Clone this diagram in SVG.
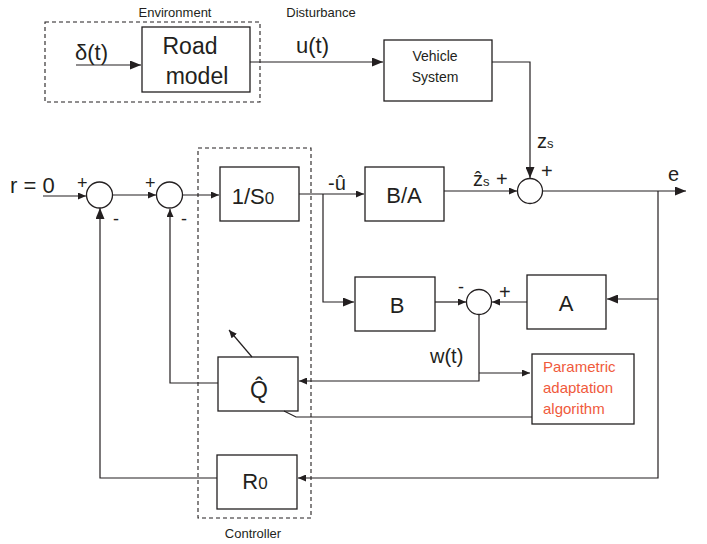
<svg xmlns="http://www.w3.org/2000/svg" width="707" height="544" viewBox="0 0 707 544">
<style>
.box{fill:#fff;stroke:#231f20;stroke-width:1.3}
.dash{fill:none;stroke:#231f20;stroke-width:1.1;stroke-dasharray:4 3}
.ln{fill:none;stroke:#231f20;stroke-width:1.2}
.t{font-family:"Liberation Sans",Arial,sans-serif;fill:#231f20}
.red{font-family:"Liberation Sans",Arial,sans-serif;fill:#f05a3c;font-size:15px}
</style>
<defs>
<marker id="ah" markerWidth="11" markerHeight="9" refX="11" refY="4.5" orient="auto" markerUnits="userSpaceOnUse"><path d="M0,0 L11,4.5 L0,9 z" fill="#231f20"/></marker>
<marker id="as" markerWidth="8" markerHeight="7" refX="8" refY="3.5" orient="auto" markerUnits="userSpaceOnUse"><path d="M0,0 L8,3.5 L0,7 z" fill="#231f20"/></marker>
</defs>
<g id="environment">
<rect class="dash" x="45" y="22" width="215" height="80"/>
<text class="t" x="175" y="17" font-size="13" text-anchor="middle">Environment</text>
</g>
<text class="t" x="321" y="17" font-size="13" text-anchor="middle">Disturbance</text>
<g id="controller">
<rect class="dash" x="198" y="148" width="113" height="370"/>
<text class="t" x="253" y="538" font-size="13" text-anchor="middle">Controller</text>
</g>
<g id="road">
<rect class="box" x="142" y="27" width="108" height="65"/>
<text class="t" x="190" y="54" font-size="23" text-anchor="middle">Road</text>
<text class="t" x="197" y="84" font-size="23" text-anchor="middle">model</text>
</g>
<g id="vehicle">
<rect class="box" x="384" y="40" width="108" height="61"/>
<text class="t" x="435" y="61" font-size="14" text-anchor="middle">Vehicle</text>
<text class="t" x="435" y="82" font-size="14" text-anchor="middle">System</text>
</g>
<g id="s0">
<rect class="box" x="220" y="167" width="79" height="54"/>
<text class="t" x="253" y="204" font-size="22" text-anchor="middle">1/S<tspan font-size="17">0</tspan></text>
</g>
<g id="ba">
<rect class="box" x="365" y="167" width="79" height="54"/>
<text class="t" x="404" y="203" font-size="22" text-anchor="middle">B/A</text>
</g>
<g id="b">
<rect class="box" x="355" y="277" width="80" height="54"/>
<text class="t" x="397" y="313" font-size="22" text-anchor="middle">B</text>
</g>
<g id="a">
<rect class="box" x="527" y="275" width="79" height="54"/>
<text class="t" x="566" y="311" font-size="22" text-anchor="middle">A</text>
</g>
<g id="q">
<rect class="box" x="218" y="357" width="80" height="54"/>
<text class="t" x="259" y="398" font-size="23" text-anchor="middle">Q̂</text>
</g>
<g id="r0">
<rect class="box" x="217" y="455" width="80" height="54"/>
<text class="t" x="255" y="489" font-size="22" text-anchor="middle">R<tspan font-size="17">0</tspan></text>
</g>
<g id="paa">
<rect class="box" x="532" y="354" width="102" height="70"/>
<text class="red" x="543" y="372">Parametric</text>
<text class="red" x="543" y="393">adaptation</text>
<text class="red" x="543" y="414">algorithm</text>
</g>
<g id="sum1"><circle class="box" cx="99.5" cy="195" r="13"/></g>
<g id="sum2"><circle class="box" cx="169.5" cy="195" r="13"/></g>
<g id="sum3"><circle class="box" cx="530" cy="191" r="12.5"/></g>
<g id="sum4"><circle class="box" cx="479" cy="302" r="12.5"/></g>
<g id="connectors">
<path class="ln" d="M76,65 H141" marker-end="url(#ah)"/>
<path class="ln" d="M250,62 H383" marker-end="url(#ah)"/>
<path class="ln" d="M492,62 H530 V178" marker-end="url(#ah)"/>
<path class="ln" d="M444,191 H517" marker-end="url(#as)"/>
<path class="ln" d="M542.5,191 H686" marker-end="url(#ah)"/>
<path class="ln" d="M658,191 V478 H298" marker-end="url(#as)"/>
<path class="ln" d="M658,299 H607" marker-end="url(#ah)"/>
<path class="ln" d="M43,196 H86" marker-end="url(#as)"/>
<path class="ln" d="M112.5,195 H156" marker-end="url(#as)"/>
<path class="ln" d="M182.5,195 H219" marker-end="url(#as)"/>
<path class="ln" d="M299,194 H364" marker-end="url(#as)"/>
<path class="ln" d="M323,194 V302 H354" marker-end="url(#ah)"/>
<path class="ln" d="M435,302 H466" marker-end="url(#as)"/>
<path class="ln" d="M527,302 H492" marker-end="url(#as)"/>
<path class="ln" d="M479,314.5 V381 H299" marker-end="url(#as)"/>
<path class="ln" d="M479,373 H530" marker-end="url(#as)"/>
<path class="ln" d="M532,417 H296 L284,411"/>
<path class="ln" d="M218,383 H170 V209" marker-end="url(#as)"/>
<path class="ln" d="M217,478 H100 V208" marker-end="url(#ah)"/>
<path class="ln" d="M252,357 L229,330" marker-end="url(#as)"/>
</g>
<g id="labels">
<text class="t" x="75" y="60" font-size="22">δ(t)</text>
<text class="t" x="296" y="53" font-size="22">u(t)</text>
<text class="t" x="10" y="193" font-size="22">r = 0</text>
<text class="t" x="77" y="189" font-size="18">+</text>
<text class="t" x="113" y="225" font-size="18">-</text>
<text class="t" x="145" y="189" font-size="18">+</text>
<text class="t" x="181" y="225" font-size="18">-</text>
<text class="t" x="328" y="190" font-size="20">-û</text>
<text class="t" x="473" y="186" font-size="20">ẑ<tspan font-size="13">s</tspan></text>
<text class="t" x="496" y="186" font-size="20">+</text>
<text class="t" x="537" y="148" font-size="20">z<tspan font-size="13">s</tspan></text>
<text class="t" x="541" y="178" font-size="20">+</text>
<text class="t" x="668" y="181" font-size="20">e</text>
<text class="t" x="458" y="293" font-size="18">-</text>
<text class="t" x="499" y="299" font-size="20">+</text>
<text class="t" x="430" y="363" font-size="20">w(t)</text>
</g>
</svg>
